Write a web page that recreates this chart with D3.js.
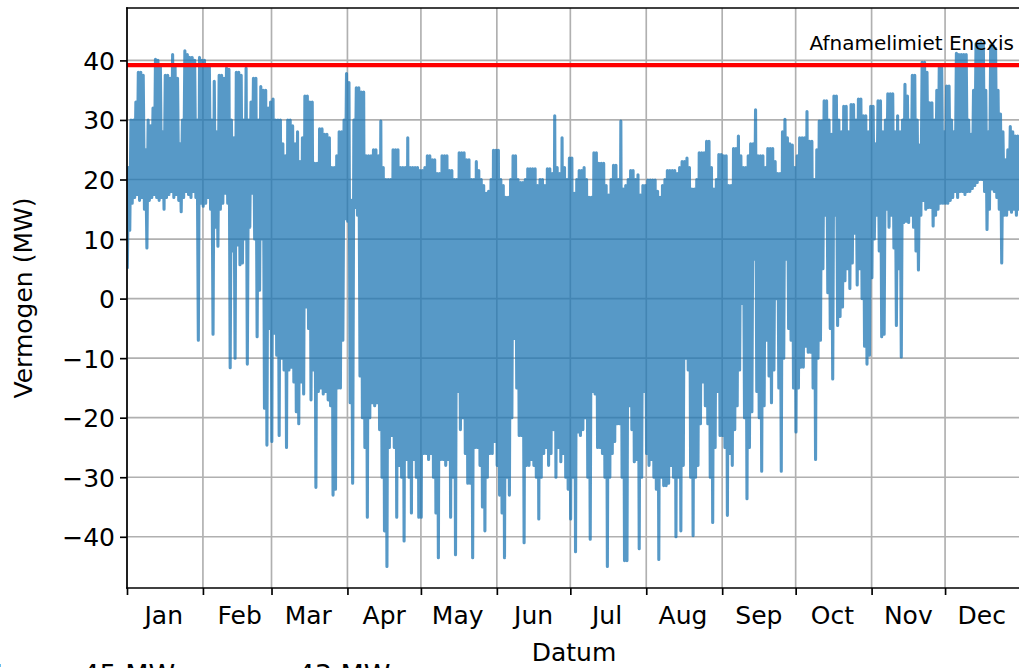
<!DOCTYPE html>
<html><head><meta charset="utf-8">
<script src="https://cdn.jsdelivr.net/npm/d3@7"></script>
<style>
body{margin:0;background:#fff}
svg{display:block}
text{font-family:"DejaVu Sans",sans-serif;fill:#000}
</style>
</head><body>
<svg id="chart" width="1019" height="668"></svg>
<script>
// ---- data: daily minimum / maximum power (MW) ----
const janMax=[22,30,30,33,38,38,37.5,25,30,29,32,40.2,40,39,28,37.5,37.5,37,41,39,37,26,30,41.6,41,40.5,40.5,40,30,40.5,40];
const janMin=[5,11.5,16,17,17.5,16.5,17,15,8.5,16.5,17,17.5,17,16.5,17,15,17,17.5,18,17,17.5,16.5,14.6,17,18,17.5,17,18,17,-7,16];
const febMax=[40,39,39,30,36.5,28,37.5,37.5,37,38.7,38.5,30,27,38,38,37.5,30,38.7,30,33,37,37,30,35.6,35,35,32,33];
const febMin=[15.5,16,17,15,-6,12,8.8,15,16,17.7,16,-11.6,8,-10,9,5.7,6,10,-11,12,17.7,10,-6.4,1.4,10,-18.4,-24.6,-5];
const marMax=[33.5,30,30,30,26,24,30,30,29,26,28,23,27,34,34,33,33,22.7,22.7,28.5,28.5,27.6,27.6,27,22,22,24,28,28,30,37.8];
const marMin=[-24,-5.8,-9.5,-23,-10,-12,-25,-12,-11.5,-14,-19,-21,-14,-16,-1.4,-5,-17,-12,-31.7,-15.6,-15,-16,-15.6,-17,-18,-33,-32,-15,-15,-7,13.4];
const aprMax=[36.3,16.5,30,35.4,35.4,34.7,34.7,24,24,24,25,25,24,29.8,22,20,20,20,25,25,25,22,22,22,27,22,22,22,22,21.5];
const aprMin=[13,-17.5,-31,15.3,14,-13,-20,-25,-36.7,-20,-17.5,-18,-17.5,-22,-30,-39,-45,-25,-23,-25,-36.7,-28,-30,-40.7,-27,-30,-36,-27,-30,-36.7];
const mayMax=[21.5,22,24,24,23.3,23.3,21,21,24,24,24,21.5,21.5,20,20,24.5,24.5,24.5,23.3,23.3,20,20,23,21.5,20,19,17.7,18,20,24.9,24.9];
const mayMin=[-36.7,-26,-26,-27,-26,-30,-36,-43.5,-27,-27,-28,-27,-36.7,-30,-43,-15.6,-22,-20,-26,-31,-31,-43.5,-25,-25,-28,-35,-39,-30,-26,-26,-24];
const junMax=[24.9,20,19,17,17,20,24,24,20,19.5,19.5,20,21.8,21.8,21.8,21.8,19,20,20,19,21.8,21.8,21,30.7,22,21,27,22,20,23.6];
const junMin=[-28,-33,-36,-43.5,-30,-33,-20,-6.7,-15,-23,-23,-41,-28,-28,-27,-28,-30,-37,-30,-26,-25,-28,-26,-22,-30,-25,-27.4,-26,-30,-32];
const julMax=[23.6,17.7,20,21.5,21.5,22,20,17,17,24.5,24.5,22.7,22.7,22.7,19,17.4,20,22.4,22.4,20,29.8,18.4,19,20,21.5,21.5,20,20.8,17.4,19,19];
const julMin=[-37,-30,-42.5,-22.4,-23,-22,-20,-30,-40.4,-15.6,-16,-25,-25,-26,-30,-45,-30,-26,-24,-21,-21,-30,-44,-44,-18,-22,-27.4,-27,-42,-30,-15.6];
const augMax=[19.9,19.9,19.9,19.9,18,17,19,20,21.5,21.5,21.5,21.5,21,22,23,23,23.6,22,18.4,18.4,20,24.5,24.5,24.5,26.4,26.4,22,18.4,20,24.2,24.2];
const augMin=[-26,-28,-27,-30,-32,-43.8,-30,-31.4,-31.4,-31,-28,-30,-40,-30,-39,-28,-10,-12,-30,-39.8,-30,-28,-21,-14,-18,-21,-30,-37.6,-25,-15.6,-23];
const sepMax=[24,24,19,19,25.2,25.2,27.3,24,22,22,24,26,26,31.7,24,24,24,22,25.2,25.2,25.2,23,21,21,28,30.1,27,26,25.8,22];
const sepMin=[-23,-25,-36.4,-26,-28,-22,-18,-12,-0.8,-20,-33.6,-25,-19,6.6,-15.6,-20,-29,-18,-7,-13,-17.5,-12,0,-15,-29,-10,6.6,-5,-7,-15];
const octMax=[24,27,27,27,31.4,26.4,26.4,20,25,29.8,29.8,33.2,33.2,30,27.6,34,34,30,28,32.3,32.3,28,32.6,32.6,30,33.5,33.5,30.7,30.7,28,32.3];
const octMin=[-22.4,-15,-11.5,-11.5,-8,-9,-9,-15,-27,-10,-7,5,14,1,-5,-13.5,14,-4.5,-3,-1.4,3,5,1.7,6,11,2.3,5,0,-8,-11,-9.5];
const novMax=[32.3,26,33.2,33.2,28,30,34.4,34.4,34.4,28,30.7,28,30,36,34,30,37.5,37.5,30,25.8,39.7,39.7,38,32.9,32.9,30,35,38.8,38.8,28];
const novMin=[3.5,10,14,8,-6.4,-6,15,12,14,8.5,-4.5,5,-9.8,12.8,13,12.8,14,12,8,4.8,14,16.5,15,15.3,15.3,12.2,14,15,16,16];
const decMax=[35.7,35.7,30,28,41.2,41,41,41,41,30,27.6,35,42.8,42.8,43,42.8,35,28,42.5,42.5,42,35,31,28,23.3,25,28.9,28,27.3,27.3,27];
const decMin=[16,16,16.5,17,18,17,18,18,17.5,18,18,18.5,19,19.5,20,20,18,11.6,15,18.4,18,17,15,6,14,14,15,14.5,15,14,15];

const yTicks=[-40,-30,-20,-10,0,10,20,30,40];
const limitValue=39.2;
const limitLabel="Afnamelimiet Enexis";
const xTitle="Datum";
const yTitle="Vermogen (MW)";
const statsParts=["min = \u221245 MW","max = 43 MW"];

const dailyMax=[].concat(janMax,febMax,marMax,aprMax,mayMax,junMax,julMax,augMax,sepMax,octMax,novMax,decMax);
const dailyMin=[].concat(janMin,febMin,marMin,aprMin,mayMin,junMin,julMin,augMin,sepMin,octMin,novMin,decMin);

// ---- layout ----
const L=127,R=1021,T=8,B=588;
const t0=new Date(Date.UTC(2023,0,1)), t1=new Date(Date.UTC(2024,0,1));
const x=d3.scaleUtc().domain([t0,t1]).range([L,R]);
const y=d3.scaleLinear().domain([-48.6,48.8]).range([B,T]);

const series=[];
dailyMin.forEach((v,i)=>{
  series.push({t:d3.utcHour.offset(t0,i*24+3),v:v});
  series.push({t:d3.utcHour.offset(t0,i*24+15),v:dailyMax[i]});
});

const svg=d3.select("#chart");
svg.append("rect").attr("width",1019).attr("height",668).attr("fill","#fff");
svg.append("defs").append("clipPath").attr("id","clip")
  .append("rect").attr("x",L).attr("y",T).attr("width",R-L).attr("height",B-T);

const monthStarts=d3.utcMonth.range(t0,t1);
const grid=svg.append("g").attr("stroke","#b0b0b0").attr("stroke-width",1.67);
grid.selectAll(".gx").data(monthStarts).join("line")
  .attr("x1",d=>x(d)).attr("x2",d=>x(d)).attr("y1",T).attr("y2",B);
grid.selectAll(".gy").data(yTicks).join("line")
  .attr("x1",L).attr("x2",R).attr("y1",d=>y(d)).attr("y2",d=>y(d));

const plot=svg.append("g").attr("clip-path","url(#clip)");
plot.append("path").datum(series)
  .attr("fill","none").attr("stroke","#1f77b4").attr("stroke-opacity",0.75)
  .attr("stroke-width",3.1).attr("stroke-linejoin","round")
  .attr("d",d3.line().x(d=>x(d.t)).y(d=>y(d.v)));
plot.append("line").attr("x1",L).attr("x2",R).attr("y1",y(limitValue)).attr("y2",y(limitValue))
  .attr("stroke","#ff0000").attr("stroke-width",4.2);

// axes
const yAxis=d3.axisLeft(y).tickValues(yTicks).tickSize(7).tickPadding(7);
const gy=svg.append("g").attr("transform",`translate(${L},0)`).call(yAxis);
const xAxis=d3.axisBottom(x).tickValues(monthStarts).tickSize(7).tickFormat("");
const gx=svg.append("g").attr("transform",`translate(0,${B})`).call(xAxis);
[gx,gy].forEach(g=>{
  g.select(".domain").remove();
  g.selectAll(".tick line").attr("stroke","#000").attr("stroke-width",1.67);
});
gy.selectAll(".tick text").attr("font-size",25).attr("font-family","DejaVu Sans").attr("x",-12).attr("dy","0.36em").attr("fill","#000");

const labelDates=monthStarts.map(d=>d3.utcDay.offset(d,15));
svg.append("g").selectAll("text").data(labelDates).join("text")
  .attr("x",d=>x(d)).attr("y",624).attr("text-anchor","middle").attr("font-size",25)
  .text(d3.utcFormat("%b"));

// spines
const sp=svg.append("g").attr("stroke","#000").attr("stroke-width",1.67).attr("stroke-linecap","square");
sp.append("line").attr("x1",L).attr("x2",L).attr("y1",T).attr("y2",B);
sp.append("line").attr("x1",L).attr("x2",R).attr("y1",T).attr("y2",T);
sp.append("line").attr("x1",L).attr("x2",R).attr("y1",B).attr("y2",B);

// titles
svg.append("text").attr("x",(L+R)/2).attr("y",661).attr("text-anchor","middle").attr("font-size",25).text(xTitle);
svg.append("text").attr("transform","translate(32,298) rotate(-90)").attr("text-anchor","middle").attr("font-size",25).text(yTitle);
svg.append("text").attr("x",1014).attr("y",50).attr("text-anchor","end").attr("font-size",20).text(limitLabel);
const st=svg.append("text").attr("y",684).attr("font-size",27);
st.append("tspan").attr("x",-31).text(statsParts[0]);
st.append("tspan").attr("x",199).text(statsParts[1]);
</script>
</body></html>
